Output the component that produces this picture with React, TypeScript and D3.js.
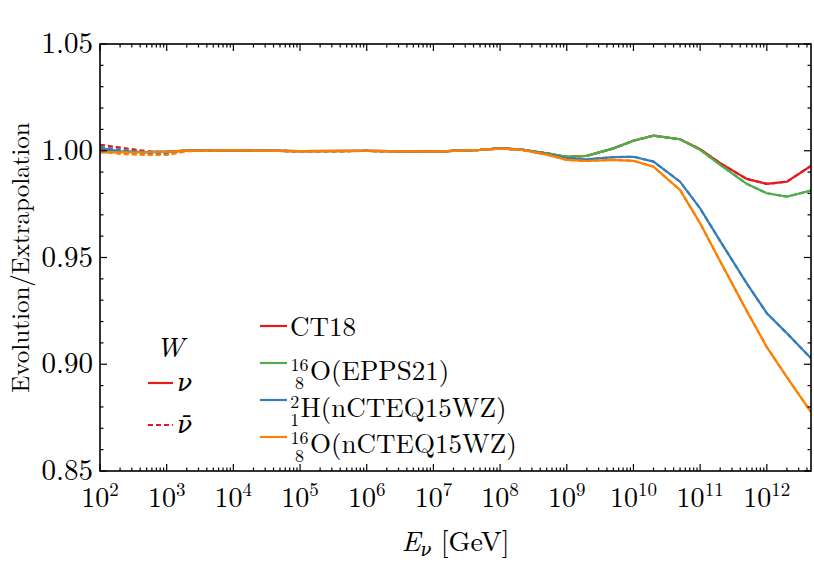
import { useEffect, useRef } from 'react';
import * as d3 from 'd3';

// neutrino energy grid (GeV)
const energies = [
  1e2, 2e2, 5e2, 1e3, 2e3, 1e4, 1e5, 1e6, 1e7, 5e7, 1e8, 2e8, 5e8,
  1e9, 2e9, 5e9, 1e10, 2e10, 5e10, 1e11, 2e11, 5e11, 1e12, 2e12, 4.6e12,
];

// W, nu (solid)
const ct18Nu = [1.0008, 0.9996, 0.9994, 0.9996, 1.0001, 1.0002, 0.9998, 0.9999, 0.9996, 1.0004, 1.0011, 1.0006, 0.9988, 0.9972, 0.9976, 1.0011, 1.0047, 1.0071, 1.0054, 1.0007, 0.9942, 0.9868, 0.9845, 0.9855, 0.9929];
const eppsNu = [0.9992, 0.9994, 0.9994, 0.9996, 1.0001, 1.0002, 0.9998, 0.9999, 0.9996, 1.0004, 1.0011, 1.0006, 0.9988, 0.9972, 0.9976, 1.0011, 1.0047, 1.0071, 1.0054, 1.0004, 0.9934, 0.9845, 0.9801, 0.9785, 0.9813];
const deutNu = [1.0012, 0.9997, 0.9994, 0.9996, 1.0001, 1.0002, 0.9998, 0.9999, 0.9996, 1.0004, 1.0011, 1.0006, 0.9985, 0.9965, 0.996, 0.997, 0.9972, 0.9949, 0.9855, 0.973, 0.9577, 0.9379, 0.9239, 0.9145, 0.9028];
const oxyNu = [0.9995, 0.9993, 0.9993, 0.9995, 1.0001, 1.0002, 0.9998, 0.9999, 0.9996, 1.0004, 1.001, 1.0005, 0.9982, 0.9957, 0.9952, 0.9957, 0.9953, 0.9925, 0.9816, 0.966, 0.9482, 0.925, 0.908, 0.894, 0.8776];

// W, nubar (dashed)
const ct18NuBar = [1.0028, 1.0015, 0.9998, 0.9992, 1.0001, 1.0002, 0.9998, 0.9999, 0.9996, 1.0004, 1.0011, 1.0006, 0.9988, 0.9972, 0.9976, 1.0011, 1.0047, 1.0071, 1.0054, 1.0007, 0.9942, 0.9868, 0.9845, 0.9855, 0.9929];
const eppsNuBar = [0.9995, 0.999, 0.9986, 0.9986, 1.0, 1.0002, 0.9998, 0.9999, 0.9996, 1.0004, 1.0011, 1.0006, 0.9988, 0.9972, 0.9976, 1.0011, 1.0047, 1.0071, 1.0054, 1.0004, 0.9934, 0.9845, 0.9801, 0.9785, 0.9813];
const deutNuBar = [1.0018, 1.0005, 0.9993, 0.9988, 1.0, 1.0002, 0.9998, 0.9999, 0.9996, 1.0004, 1.0011, 1.0006, 0.9985, 0.9965, 0.996, 0.997, 0.9972, 0.9949, 0.9855, 0.973, 0.9577, 0.9379, 0.9239, 0.9145, 0.9028];
const oxyNuBar = [1.0, 0.9985, 0.998, 0.998, 0.9998, 1.0002, 0.9998, 0.9999, 0.9996, 1.0004, 1.001, 1.0005, 0.9982, 0.9957, 0.9952, 0.9957, 0.9953, 0.9925, 0.9816, 0.966, 0.9482, 0.925, 0.908, 0.894, 0.8776];

const colors = ['#e41a1c', '#4daf4a', '#377eb8', '#ff7f00'];

const yTicks = [0.85, 0.9, 0.95, 1.0, 1.05];
const yTickLabels = ['0.85', '0.90', '0.95', '1.00', '1.05'];
const xDecades = [2, 3, 4, 5, 6, 7, 8, 9, 10, 11, 12];

const W = 814;
const H = 563;
const FONT = '"Latin Modern Roman", "CMU Serif", "DejaVu Serif", serif';

export default function App() {
  const svgRef = useRef<SVGSVGElement | null>(null);

  useEffect(() => {
    const margin = { top: 44, right: 3, bottom: 92, left: 100 };
    const width = W - margin.left - margin.right;
    const height = H - margin.top - margin.bottom;

    const root = d3.select(svgRef.current);
    root.selectAll('*').remove();

    const svg = root.append('g').attr('transform', `translate(${margin.left},${margin.top})`);
    const txt = (g: any) => g.append('text').style('font-family', FONT);

    const x = d3.scaleLog().domain([1e2, 4.6e12]).range([0, width]);
    const y = d3.scaleLinear().domain([0.85, 1.05]).range([height, 0]);

    svg.append('clipPath').attr('id', 'plotclip')
      .append('rect').attr('width', width).attr('height', height);

    // lines
    const series = [
      { nu: ct18Nu, nuBar: ct18NuBar },
      { nu: eppsNu, nuBar: eppsNuBar },
      { nu: deutNu, nuBar: deutNuBar },
      { nu: oxyNu, nuBar: oxyNuBar },
    ];
    const line = d3.line<number>()
      .x((_, i) => x(energies[i]))
      .y(d => y(d));

    const plot = svg.append('g').attr('clip-path', 'url(#plotclip)');
    series.forEach((s, k) => {
      plot.append('path')
        .attr('d', line(s.nuBar))
        .attr('fill', 'none')
        .attr('stroke', colors[k])
        .attr('stroke-width', 2.2)
        .attr('stroke-dasharray', '5,3');
      plot.append('path')
        .attr('d', line(s.nu))
        .attr('fill', 'none')
        .attr('stroke', colors[k])
        .attr('stroke-width', 2.2);
    });

    // frame
    svg.append('rect')
      .attr('width', width).attr('height', height)
      .attr('fill', 'none').attr('stroke', '#000').attr('stroke-width', 1.6);

    // ticks, pointing inward on every side
    const ticks = svg.append('g').attr('stroke', '#000').attr('stroke-width', 1.2);
    const xMajor = xDecades.map(d => Math.pow(10, d));
    const xMinor: number[] = [];
    xDecades.forEach(d => {
      for (let m = 2; m <= 9; m++) {
        const v = m * Math.pow(10, d);
        if (v <= 4.6e12) xMinor.push(v);
      }
    });
    const yMinor = d3.range(86, 105).filter(v => v % 5 !== 0).map(v => v / 100);

    xMajor.forEach(v => {
      ticks.append('line').attr('x1', x(v)).attr('x2', x(v)).attr('y1', height).attr('y2', height - 7);
      ticks.append('line').attr('x1', x(v)).attr('x2', x(v)).attr('y1', 0).attr('y2', 7);
    });
    xMinor.forEach(v => {
      ticks.append('line').attr('x1', x(v)).attr('x2', x(v)).attr('y1', height).attr('y2', height - 3.5);
      ticks.append('line').attr('x1', x(v)).attr('x2', x(v)).attr('y1', 0).attr('y2', 3.5);
    });
    yTicks.forEach(v => {
      ticks.append('line').attr('x1', 0).attr('x2', 7).attr('y1', y(v)).attr('y2', y(v));
      ticks.append('line').attr('x1', width).attr('x2', width - 7).attr('y1', y(v)).attr('y2', y(v));
    });
    yMinor.forEach(v => {
      ticks.append('line').attr('x1', 0).attr('x2', 3.5).attr('y1', y(v)).attr('y2', y(v));
      ticks.append('line').attr('x1', width).attr('x2', width - 3.5).attr('y1', y(v)).attr('y2', y(v));
    });

    // tick labels
    yTicks.forEach((v, i) => {
      txt(svg)
        .attr('x', -7).attr('y', y(v) + 9)
        .attr('text-anchor', 'end')
        .attr('font-size', 29)
        .text(yTickLabels[i]);
    });
    xDecades.forEach(d => {
      const t = txt(svg)
        .attr('x', x(Math.pow(10, d))).attr('y', height + 36)
        .attr('text-anchor', 'middle')
        .attr('font-size', 28);
      t.append('tspan').text('10');
      t.append('tspan').attr('dy', -11).attr('font-size', 19).text(String(d));
    });

    // axis titles
    const xl = txt(svg)
      .attr('x', width / 2).attr('y', height + 80)
      .attr('text-anchor', 'middle')
      .attr('font-size', 28);
    xl.append('tspan').attr('font-style', 'italic').text('E');
    xl.append('tspan').attr('font-style', 'italic').attr('font-size', 18).attr('dy', 5).text('ν');
    xl.append('tspan').attr('dy', -5).text(' [GeV]');

    txt(svg)
      .attr('transform', `translate(${-71},${height / 2}) rotate(-90)`)
      .attr('text-anchor', 'middle')
      .attr('font-size', 25)
      .text('Evolution/Extrapolation');

    // legend: neutrino type
    const lg1 = svg.append('g');
    txt(lg1)
      .attr('x', 70).attr('y', 357 - margin.top)
      .attr('text-anchor', 'middle')
      .attr('font-size', 28).attr('font-style', 'italic')
      .text('W');
    [{ dash: null, lbl: 'ν', ly: 383 }, { dash: '5,3', lbl: 'ν̄', ly: 425 }].forEach(r => {
      lg1.append('line')
        .attr('x1', 48).attr('x2', 73)
        .attr('y1', r.ly - margin.top).attr('y2', r.ly - margin.top)
        .attr('stroke', colors[0]).attr('stroke-width', 2.2)
        .attr('stroke-dasharray', r.dash);
      txt(lg1)
        .attr('x', 77).attr('y', r.ly - margin.top + 8)
        .attr('font-size', 25).attr('font-style', 'italic')
        .text(r.lbl);
    });

    // legend: PDF sets
    const rows = [
      { sup: '', sub: '', main: 'CT18', ly: 326, base: 336 },
      { sup: '16', sub: '8', main: 'O(EPPS21)', ly: 363, base: 380 },
      { sup: '2', sub: '1', main: 'H(nCTEQ15WZ)', ly: 400, base: 417 },
      { sup: '16', sub: '8', main: 'O(nCTEQ15WZ)', ly: 437, base: 453 },
    ];
    const lg2 = svg.append('g');
    rows.forEach((r, k) => {
      lg2.append('line')
        .attr('x1', 160).attr('x2', 187)
        .attr('y1', r.ly - margin.top).attr('y2', r.ly - margin.top)
        .attr('stroke', colors[k]).attr('stroke-width', 2.2);
      const tx = 190;
      const t = txt(lg2)
        .attr('x', tx).attr('y', r.base - margin.top)
        .attr('font-size', 27);
      if (r.sup) {
        const w = r.sup.length * 9.5;
        t.append('tspan').attr('x', tx + w / 2).attr('dy', -9)
          .attr('text-anchor', 'middle').attr('font-size', 18).text(r.sup);
        t.append('tspan').attr('x', tx + w / 2).attr('dy', 18)
          .attr('text-anchor', 'middle').attr('font-size', 18).text(r.sub);
        t.append('tspan').attr('x', tx + w + 1).attr('dy', -9)
          .attr('text-anchor', 'start').text(r.main);
      } else {
        t.text(r.main);
      }
    });
  }, []);

  return (
    <svg
      ref={svgRef}
      width={W}
      height={H}
      style={{ position: 'absolute', left: 0, top: 0, background: '#fff' }}
    />
  );
}
